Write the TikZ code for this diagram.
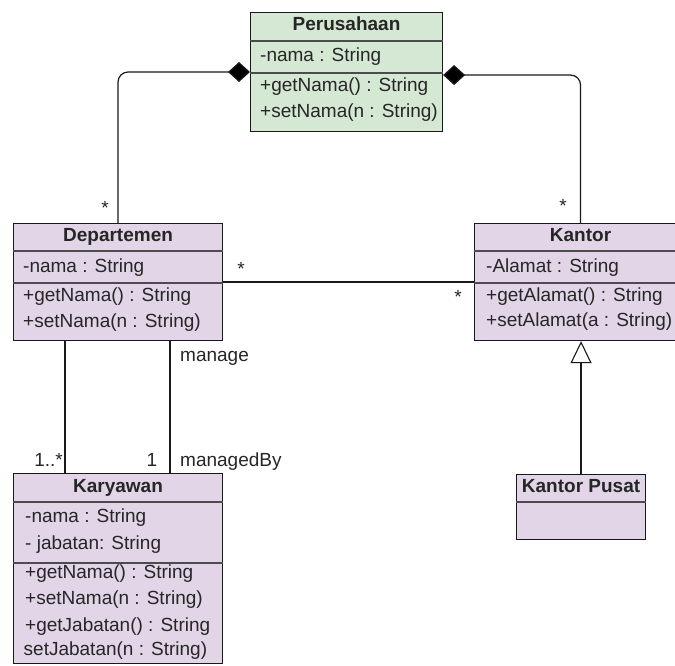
\documentclass[tikz,border=0pt]{standalone}
\usepackage{fontspec}
\setmainfont{Liberation Sans}
\usetikzlibrary{arrows.meta}
\definecolor{umlgreen}{HTML}{D5E8D4}
\definecolor{umlpurple}{HTML}{E1D5E7}
\begin{document}
\begin{tikzpicture}[x=1pt,y=-1pt,
  classbox/.style={draw=black!90, line width=1.1pt, inner sep=0pt, anchor=north west},
  member/.style={anchor=west, inner sep=0pt, text height=13pt, text depth=4pt,
    font=\fontsize{19}{22}\selectfont, text=black!85},
  title/.style={member, anchor=center, font=\fontsize{19}{22}\selectfont\bfseries},
  lbl/.style={inner sep=0pt, font=\fontsize{19}{22}\selectfont, text=black!85},
  sep/.style={line width=1.5pt, draw=black!70},
  link/.style={line width=1.2pt, draw=black!90},
  comp/.style={link, rounded corners=10pt, -{Diamond[length=22pt,width=20pt,fill=black]}},
  inherit/.style={link, -{Triangle[open,length=22pt,width=21pt,line width=1.1pt,fill=white]}}]
\useasboundingbox (0,0) rectangle (675,666);

% ---------- Perusahaan ----------
\node[classbox, fill=umlgreen, minimum width=192pt, minimum height=119pt] (per) at (250,12) {};
\node[title] (perT) at (per.north |- 0,26.5) {Perusahaan};
\draw[sep] (per.west |- 0,41) -- (per.east |- 0,41);
\draw[sep] (per.west |- 0,73) -- (per.east |- 0,73);
\node[member] (perA) at (260,57) {-nama : String};
\node[member] (perM1) at (260,87) {+getNama() : String};
\node[member] (perM2) at (260,113) {+setNama(n : String)};

% ---------- Departemen ----------
\node[classbox, fill=umlpurple, minimum width=209pt, minimum height=117pt] (dep) at (13,223) {};
\node[title] (depT) at (dep.north |- 0,237) {Departemen};
\draw[sep] (dep.west |- 0,251) -- (dep.east |- 0,251);
\draw[sep] (dep.west |- 0,283) -- (dep.east |- 0,283);
\node[member] (depA) at (23,268) {-nama : String};
\node[member] (depM1) at (23,297) {+getNama() : String};
\node[member] (depM2) at (23,323) {+setNama(n : String)};

% ---------- Kantor ----------
\node[classbox, fill=umlpurple, minimum width=212pt, minimum height=117pt] (kan) at (474,223) {};
\node[title] (kanT) at (kan.north |- 0,237) {Kantor};
\draw[sep] (kan.west |- 0,251) -- (kan.east |- 0,251);
\draw[sep] (kan.west |- 0,283) -- (kan.east |- 0,283);
\node[member] (kanA) at (486,268) {-Alamat : String};
\node[member] (kanM1) at (486,297) {+getAlamat() : String};
\node[member] (kanM2) at (486,322) {+setAlamat(a : String)};

% ---------- Karyawan ----------
\node[classbox, fill=umlpurple, minimum width=209pt, minimum height=190pt] (kar) at (13,473) {};
\node[title] (karT) at (kar.north |- 0,488) {Karyawan};
\draw[sep] (kar.west |- 0,502) -- (kar.east |- 0,502);
\draw[sep] (kar.west |- 0,563) -- (kar.east |- 0,563);
\node[member] (karA1) at (25,518) {-nama : String};
\node[member] (karA2) at (25,545) {- jabatan: String};
\node[member] (karM1) at (25,574) {+getNama() : String};
\node[member] (karM2) at (25,600) {+setNama(n : String)};
\node[member] (karM3) at (25,627) {+getJabatan() : String};
\node[member] (karM4) at (23.5,651) {setJabatan(n : String)};

% ---------- Kantor Pusat ----------
\node[classbox, fill=umlpurple, minimum width=129pt, minimum height=65pt] (kp) at (516,474) {};
\node[title] (kpT) at (kp.north |- 0,488) {Kantor Pusat};
\draw[sep] (kp.west |- 0,502) -- (kp.east |- 0,502);

% ---------- connectors ----------
\draw[comp] (dep.north) |- (per.west |- 0,72);
\draw[comp] (kan.north) |- ([yshift=-3pt]per.east);
\draw[link] (dep.east |- 0,282) -- (kan.west |- 0,282);
\draw[link] (dep.south -| 65,0) -- (kar.north -| 65,0);
\draw[link] (dep.south -| 170,0) -- (kar.north -| 170,0);
\draw[inherit] (kp.north) -- (kan.south -| kp.north);

% ---------- multiplicities and roles ----------
\node[lbl, anchor=base] (mDepTop) at (105,214.5) {*};
\node[lbl, anchor=base] (mKanTop) at (563,212.5) {*};
\node[lbl, anchor=base] (mDepKan) at (241,275.5) {*};
\node[lbl, anchor=base] (mKanDep) at (458,303.5) {*};
\node[lbl, anchor=base east] (mMany) at (63,466.5) {1..*};
\node[lbl, anchor=base] (mOne) at (152,466.5) {1};
\node[lbl, anchor=base west] (rManage) at (180,361) {manage};
\node[lbl, anchor=base west] (rManagedBy) at (180,466) {managedBy};
\end{tikzpicture}
\end{document}
